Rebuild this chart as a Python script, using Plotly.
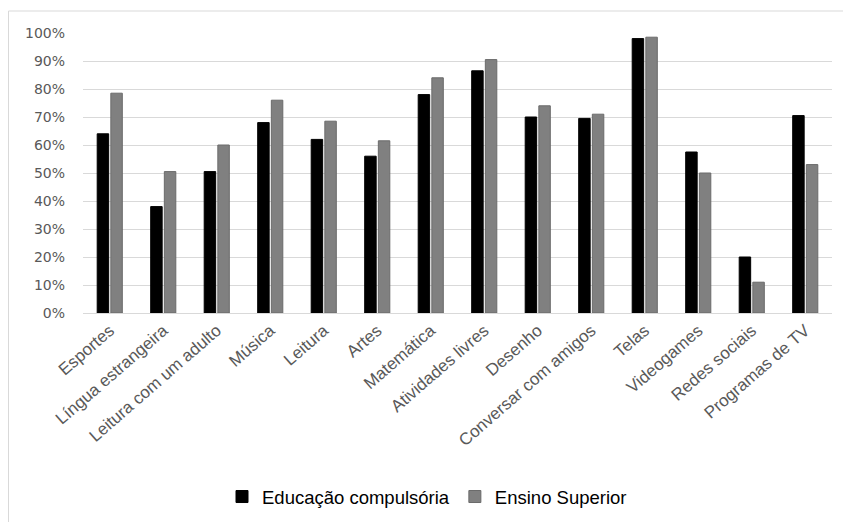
import plotly.graph_objects as go

categorias = ["Esportes", "Língua estrangeira", "Leitura com um adulto", "Música",
              "Leitura", "Artes", "Matemática", "Atividades livres", "Desenho",
              "Conversar com amigos", "Telas", "Videogames", "Redes sociais",
              "Programas de TV"]
educacao_compulsoria = [0.64, 0.38, 0.505, 0.68, 0.62, 0.56, 0.78, 0.865, 0.70,
                        0.695, 0.98, 0.575, 0.20, 0.705]
ensino_superior = [0.785, 0.505, 0.60, 0.76, 0.685, 0.615, 0.84, 0.905, 0.74,
                   0.71, 0.985, 0.50, 0.11, 0.53]
y_ticks = [i / 10 for i in range(11)]

W, H = 843, 522
L, R, T, B = 83, 11, 33, 209
pw, ph = W - L - R, H - T - B

fig = go.Figure()
fig.add_trace(go.Bar(name="Educação compulsória", x=categorias, y=educacao_compulsoria,
                     marker=dict(color="#000000", line=dict(color="#000000", width=1))))
fig.add_trace(go.Bar(name="Ensino Superior", x=categorias, y=ensino_superior,
                     marker=dict(color="#808080", line=dict(color="#6a6a6a", width=1))))


def px_x(p):
    return (p - L) / pw


def px_y(p):
    return (H - B - p) / ph


# outer chart frame
fig.add_shape(type="rect", xref="paper", yref="paper",
              x0=px_x(8.5), x1=px_x(850), y0=px_y(540), y1=px_y(11),
              line=dict(color="#d9d9d9", width=1), fillcolor="rgba(0,0,0,0)")

fig.update_layout(
    width=W, height=H,
    margin=dict(l=L, r=R, t=T, b=B, autoexpand=False),
    paper_bgcolor="white", plot_bgcolor="white",
    barmode="group", bargap=0.49, bargroupgap=0.16,
    showlegend=True,
    legend=dict(orientation="h", x=px_x(427), xanchor="center", y=px_y(497), yanchor="middle",
                font=dict(family="Liberation Sans, Arial", size=18.5, color="#000000"),
                itemwidth=30, traceorder="normal"),
    xaxis=dict(tickangle=-41, showgrid=False, showline=True, linecolor="#d9d9d9",
               automargin=False, ticks="",
               tickfont=dict(family="Liberation Sans, Arial", size=17, color="#595959")),
    yaxis=dict(range=[0, 1], tickvals=y_ticks, tickformat=".0%", showgrid=True,
               gridcolor="#d9d9d9", gridwidth=1.3, zeroline=False, showline=False,
               automargin=False, ticklabelstandoff=17,
               tickfont=dict(family="DejaVu Sans, Verdana", size=14, color="#595959")),
)

fig.write_html("out.html")
